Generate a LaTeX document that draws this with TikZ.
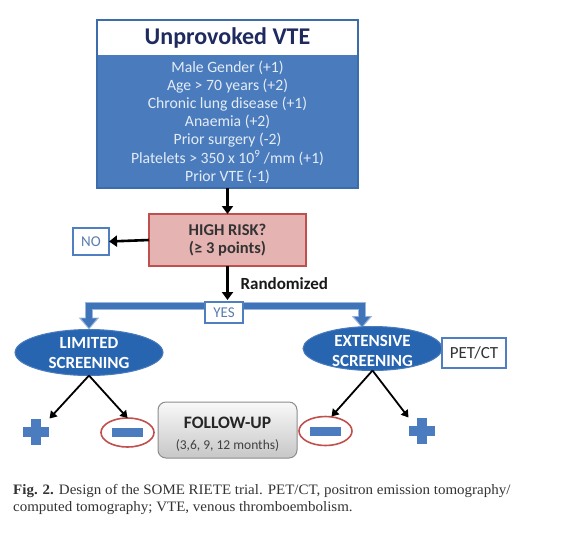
\documentclass[tikz,border=0pt]{standalone}
\usepackage{fontspec}
\setmainfont{Carlito}
\newfontfamily\capfont{Liberation Serif}
\usetikzlibrary{arrows.meta,shapes.geometric,calc,backgrounds}
\definecolor{topblue}{HTML}{4A7CBD}
\definecolor{topborder}{HTML}{3D6CAD}
\definecolor{navy}{HTML}{1F2A5E}
\definecolor{listtext}{HTML}{E4ECF6}
\definecolor{riskfill}{HTML}{E5B3B1}
\definecolor{riskborder}{HTML}{C0504D}
\definecolor{darktext}{HTML}{333333}
\definecolor{noblue}{HTML}{5A7DB0}
\definecolor{boxline}{HTML}{4F7FC0}
\definecolor{ellblue}{HTML}{2865B0}
\definecolor{ellborder}{HTML}{4A7CBD}
\definecolor{bandblue}{HTML}{3F74B9}
\definecolor{bandlight}{HTML}{9BB6DD}
\definecolor{pmblue}{HTML}{4A7CBF}
\definecolor{minusred}{HTML}{C0504D}
\definecolor{fuborder}{HTML}{8C8C8C}
\tikzset{
  smallbox/.style={draw=boxline, fill=white, line width=1.3pt, inner sep=0, outer sep=0},
  blkthick/.style={draw=black, line width=2.6pt, -{Triangle[length=8pt,width=11pt]}},
  blkthin/.style={draw=black, line width=1.8pt, -{Triangle[length=7pt,width=8.5pt]}},
  bandout/.style={draw=bandlight, line width=8.5pt, -{Triangle[length=12pt,width=20pt]}},
  bandin/.style={draw=bandblue, line width=5.5pt, shorten >=1.6pt, -{Triangle[length=9.5pt,width=15pt]}},
  ellnode/.style={ellipse, fill=ellblue, draw=ellborder, line width=1pt, inner sep=0, outer sep=0},
  elltext/.style={text=white, align=center, font=\fontsize{17}{20}\selectfont\bfseries},
  marknode/.style={inner sep=0, outer sep=0, minimum size=27pt},
  minusring/.style={ellipse, draw=minusred, line width=1.6pt, inner sep=0, outer sep=0, minimum width=53pt, minimum height=29pt},
  captext/.style={anchor=base west, inner sep=0, xscale=1.04, transform shape, font=\capfont\fontsize{14.4}{16}\selectfont, text=black!80},
  plussign/.pic={\fill[pmblue] (-4.6,-13.2) rectangle (4.6,13.2); \fill[pmblue] (-13.2,-4.6) rectangle (13.2,4.6);},
  minussign/.pic={\fill[pmblue] (-15.5,-4.5) rectangle (15.5,4.5);}
}
\begin{document}
\begin{tikzpicture}[x=1pt,y=-1pt]
\useasboundingbox (0,0) rectangle (561,542);
\begin{scope}[on background layer]
\fill[white] (0,0) rectangle (561,542);
\end{scope}

% top box
\node[draw=topborder, fill=topblue, line width=1.5pt, minimum width=261pt, minimum height=168pt, inner sep=0, outer sep=0] (top) at (227.5,104) {};
\node[fill=white, minimum width=259pt, minimum height=34.5pt, inner sep=0, outer sep=0, anchor=north] (tband) at ($(top.north)+(0,0.75)$) {};
\draw[topborder, line width=1.5pt] (top.north west) rectangle (top.south east);
\node[font=\fontsize{24}{26}\selectfont\bfseries, text=navy] (title) at (227.5,38) {Unprovoked VTE};
\node[font=\fontsize{15.7}{18.17}\selectfont, text=listtext, align=center, inner sep=0] (list) at (227.5,122) {Male Gender (+1)\\Age > 70 years (+2)\\Chronic lung disease (+1)\\Anaemia (+2)\\Prior surgery (-2)\\Platelets > 350 x 10\textsuperscript{9} /mm (+1)\\Prior VTE (-1)};

% risk
\node[draw=riskborder, fill=riskfill, line width=1.2pt, minimum width=157pt, minimum height=52pt, inner sep=0, outer sep=0, align=center, font=\fontsize{16.5}{18.5}\selectfont\bfseries, text=darktext] (risk) at (227.5,240) {HIGH RISK?\\(≥ 3 points)};
\node[smallbox, minimum width=36pt, minimum height=27pt, font=\fontsize{15}{17}\selectfont, text=noblue] (no) at (91,241.5) {NO};
\node[smallbox, minimum width=38pt, minimum height=21pt, font=\fontsize{15}{17}\selectfont, text=noblue] (yes) at (224,312.5) {YES};
\node[anchor=west, font=\fontsize{17}{19}\selectfont\bfseries, text=black!90] (rand) at (237,284) {Randomized};

\draw[blkthick] (top.south) -- (risk.north);
\draw[blkthick] (risk.west) -- (no.east);
\draw[blkthick, shorten >=2pt] (risk.south) -- (risk.south |- yes.north);

% screening ellipses
\node[ellnode, minimum width=148pt, minimum height=46pt] (lim) at (89,352.5) {};
\node[elltext] (limtxt) at (89,353) {LIMITED\\SCREENING};
\node[ellnode, minimum width=139pt, minimum height=44pt] (ext) at (372.5,348.5) {};
\node[elltext] (exttxt) at (372.5,351) {EXTENSIVE\\SCREENING};
\node[smallbox, minimum width=64pt, minimum height=30pt, font=\fontsize{17}{19}\selectfont, text=darktext] (pet) at (474,353) {PET/CT};

% band
\coordinate (bl) at (89,306);
\coordinate (br) at (362,306);
\coordinate (exttop) at (362,328);
\begin{scope}[on background layer]
\draw[bandout] (yes.center |- bl) -| (lim.north);
\draw[bandout] (yes.center |- br) -| (exttop);
\draw[bandin] (yes.center |- bl) -| (lim.north);
\draw[bandin] (yes.center |- br) -| (exttop);
\end{scope}

% outcomes
\node[marknode] (p1) at (36,432) {};
\pic at (p1.center) {plussign};
\node[minusring] (m1) at (127.5,432.5) {};
\pic at (m1.center) {minussign};
\node[minusring] (m2) at (325.5,431) {};
\pic at (m2.center) {minussign};
\node[marknode] (p2) at (422,431) {};
\pic at (p2.center) {plussign};

\draw[blkthin] (lim.south) -- (p1.north east);
\draw[blkthin] (lim.south) -- (m1.north);
\draw[blkthin] (ext.south) -- ([xshift=6pt]m2.north);
\draw[blkthin] (ext.south) -- (p2.north west);

% follow-up
\node[draw=fuborder, line width=1pt, rounded corners=8pt, top color=white!95!gray, bottom color=black!22, minimum width=139pt, minimum height=56pt, inner sep=0, outer sep=0] (fu) at (227.5,430) {};
\node[font=\fontsize{17.5}{19}\selectfont\bfseries, text=black!85] (futitle) at (227.5,423) {FOLLOW-UP};
\node[font=\fontsize{13.5}{15}\selectfont, text=black!75] (fumonths) at (227.5,445) {(3,6, 9, 12 months)};

% caption
\node[captext] (cap1) at (13,494.5) {\textbf{Fig. 2.} Design of the SOME RIETE trial. PET/CT, positron emission tomography/};
\node[captext] (cap2) at (13,511) {computed tomography; VTE, venous thromboembolism.};
\end{tikzpicture}
\end{document}
